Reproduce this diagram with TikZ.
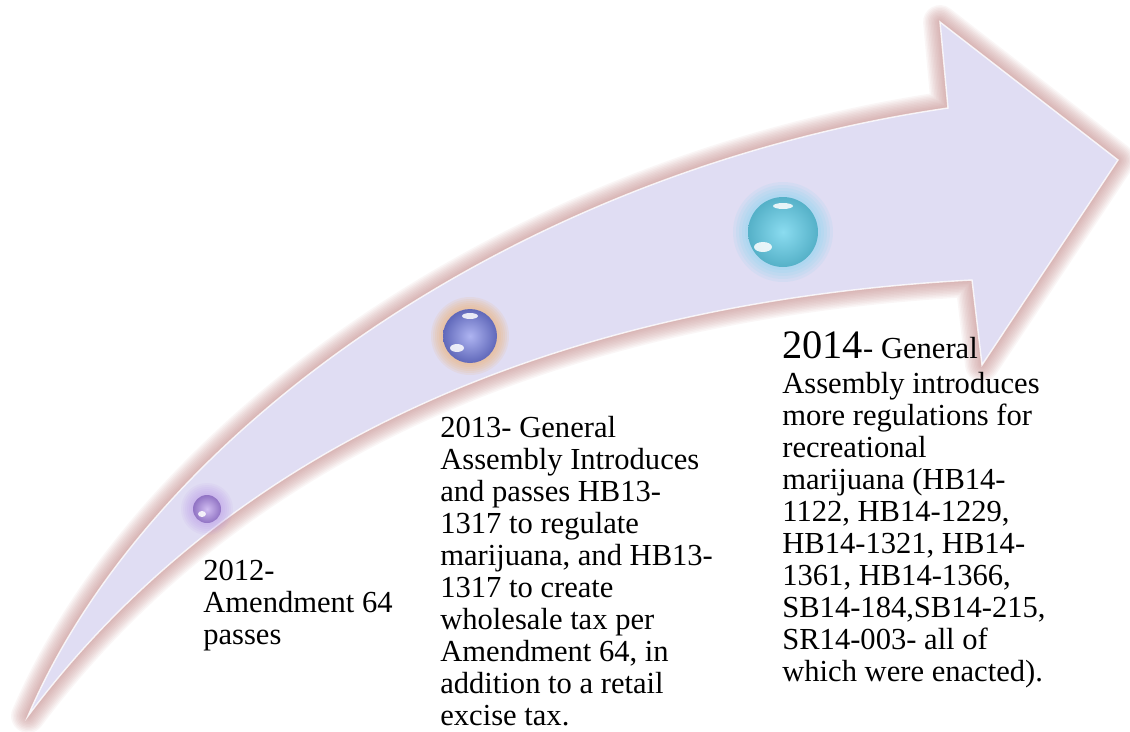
\documentclass[tikz,border=0pt]{standalone}
\usepackage{fontspec}
\setmainfont{Liberation Serif}
\newfontfamily\notefont{Liberation Serif}
\usetikzlibrary{positioning}

\definecolor{bandfill}{RGB}{224,221,243}
\definecolor{glowrose}{RGB}{185,120,120}
\definecolor{orbpurple}{RGB}{170,135,230}
\definecolor{orbblue}{RGB}{120,130,232}
\definecolor{orbcyan}{RGB}{100,208,235}
\definecolor{haloviolet}{RGB}{175,135,230}
\definecolor{haloorange}{RGB}{240,175,110}
\definecolor{halocyan}{RGB}{110,210,240}

\begin{document}
\begin{tikzpicture}[
  x=0.02cm, y=-0.02cm,
  arrow body/.style={insert path={(28,716) .. controls (150,430) and (520,170) .. (948,108) -- (940,22) -- (1118,160) -- (982,365) -- (972,280) .. controls (600,300) and (250,420) .. cycle}},
  note/.style={align=left,inner sep=0pt,anchor=north west,font=\notefont\fontsize{17.4}{18.2}\selectfont},
  shine/.style={white,opacity=0.85}
]
\useasboundingbox (0,0) rectangle (1130,731);
% soft rose glow round the arrow
\foreach \w in {34,31,...,4}
  \path[draw=glowrose,line width=\w*0.567pt,opacity=0.065,line join=round,arrow body];
\path[fill=bandfill,arrow body];
\path[draw=white,line width=0.8pt,opacity=0.8,arrow body];

\coordinate (orb12) at (207,509);
\coordinate (orb13) at (470,336);
\coordinate (orb14) at (783,232);

% halos
\foreach \r in {26,24,...,16}
  \fill[haloviolet,opacity=0.08] (orb12) circle[radius=\r];
\foreach \r in {39,37,...,29}
  \fill[haloorange,opacity=0.12] (orb13) circle[radius=\r];
\foreach \r in {50,47,...,37}
  \fill[halocyan,opacity=0.1] (orb14) circle[radius=\r];

% orbs
\shade[inner color=orbpurple!55!white,outer color=orbpurple!85!black] (orb12) circle[radius=14];
\shade[inner color=orbblue!60!white,outer color=orbblue!80!black] (orb13) circle[radius=27];
\shade[inner color=orbcyan!75!white,outer color=orbcyan!85!black] (orb14) circle[radius=35];
\fill[shine] ([shift={(-5,5)}]orb12) ellipse[x radius=4,y radius=3];
\fill[shine] ([shift={(-13,12)}]orb13) ellipse[x radius=7,y radius=4];
\fill[shine] ([shift={(0,-20)}]orb13) ellipse[x radius=8,y radius=3];
\fill[shine] ([shift={(-20,15)}]orb14) ellipse[x radius=9,y radius=5];
\fill[shine] ([shift={(0,-26)}]orb14) ellipse[x radius=10,y radius=3];

\node[note] (y2012) at (203,560) {2012-\\Amendment 64\\passes};
\node[note] (y2013) at (440,416) {2013- General\\Assembly Introduces\\and passes HB13-\\1317 to regulate\\marijuana, and HB13-\\1317 to create\\wholesale tax per\\Amendment 64, in\\addition to a retail\\excise tax.};
\node[note] (y2014) at (782,331) {{\fontsize{23}{24}\selectfont 2014}- General\\[2pt]Assembly introduces\\more regulations for\\recreational\\marijuana (HB14-\\1122, HB14-1229,\\HB14-1321, HB14-\\1361, HB14-1366,\\SB14-184,SB14-215,\\SR14-003- all of\\which were enacted).};
\end{tikzpicture}
\end{document}
